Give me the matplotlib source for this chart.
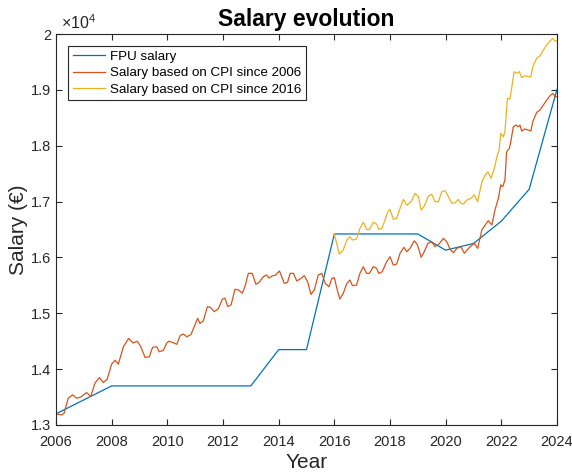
import matplotlib
matplotlib.use("Agg")
import matplotlib.pyplot as plt
from matplotlib.ticker import FuncFormatter

plt.rcParams['font.family'] = ['Liberation Sans', 'DejaVu Sans']
plt.rcParams['mathtext.fontset'] = 'custom'
plt.rcParams['mathtext.rm'] = 'Liberation Sans'

# FPU salary (piecewise)
fpu_years = [2006, 2008, 2013, 2014, 2015, 2016, 2019, 2020, 2021, 2022, 2023, 2024]
fpu_salary = [13200, 13700, 13700, 14350, 14350, 16420, 16420, 16130, 16250, 16650, 17220, 19010]

# salary adjusted by CPI since 2006
cpi06_years = [
    2006.00, 2006.20, 2006.29, 2006.44, 2006.60, 2006.74, 2006.89, 2007.10, 2007.25, 2007.40,
    2007.56, 2007.70, 2007.84, 2008.00, 2008.12, 2008.24, 2008.42, 2008.61, 2008.76, 2008.92,
    2009.04, 2009.20, 2009.35, 2009.47, 2009.62, 2009.71, 2009.86, 2009.98, 2010.06, 2010.18,
    2010.34, 2010.46, 2010.57, 2010.70, 2010.85, 2010.99, 2011.09, 2011.17, 2011.29, 2011.44,
    2011.56, 2011.69, 2011.83, 2011.98, 2012.07, 2012.17, 2012.29, 2012.43, 2012.55, 2012.69,
    2012.79, 2012.91, 2013.05, 2013.18, 2013.29, 2013.45, 2013.57, 2013.65, 2013.77, 2013.87,
    2014.03, 2014.20, 2014.32, 2014.41, 2014.53, 2014.65, 2014.80, 2014.92, 2015.04, 2015.16,
    2015.28, 2015.42, 2015.55, 2015.67, 2015.81, 2015.91, 2016.00, 2016.12, 2016.20, 2016.32,
    2016.45, 2016.56, 2016.65, 2016.80, 2016.92, 2017.04, 2017.16, 2017.26, 2017.40, 2017.52,
    2017.60, 2017.72, 2017.88, 2018.00, 2018.12, 2018.24, 2018.36, 2018.50, 2018.60, 2018.72,
    2018.87, 2018.99, 2019.12, 2019.23, 2019.36, 2019.50, 2019.62, 2019.76, 2019.92, 2020.04,
    2020.16, 2020.28, 2020.40, 2020.55, 2020.67, 2020.79, 2020.91, 2021.03, 2021.15, 2021.30,
    2021.42, 2021.53, 2021.66, 2021.77, 2021.89, 2021.98, 2022.05, 2022.13, 2022.19, 2022.29,
    2022.34, 2022.43, 2022.53, 2022.61, 2022.67, 2022.73, 2022.85, 2022.97, 2023.06, 2023.13,
    2023.27, 2023.39, 2023.51, 2023.63, 2023.75, 2023.85, 2023.93, 2024.00,
]
cpi06_salary = [
    13200, 13180, 13210, 13480, 13540, 13480, 13500, 13580, 13510, 13750,
    13850, 13760, 13820, 14090, 14160, 14090, 14400, 14550, 14470, 14500,
    14410, 14210, 14220, 14390, 14400, 14310, 14340, 14470, 14500, 14480,
    14445, 14600, 14630, 14580, 14620, 14790, 14910, 14820, 14860, 15120,
    15100, 15030, 15080, 15255, 15270, 15120, 15150, 15430, 15420, 15360,
    15480, 15715, 15715, 15520, 15550, 15655, 15685, 15630, 15670, 15680,
    15757, 15536, 15554, 15715, 15715, 15578, 15626, 15673, 15565, 15339,
    15416, 15685, 15715, 15536, 15476, 15626, 15637, 15386, 15255, 15357,
    15536, 15596, 15494, 15506, 15715, 15834, 15715, 15715, 15834, 15805,
    15715, 15744, 15923, 16013, 15864, 15882, 16073, 16181, 16102, 16163,
    16299, 16222, 16002, 16102, 16252, 16281, 16192, 16240, 16342, 16281,
    16145, 16084, 16163, 16192, 16073, 16145, 16204, 16252, 16163, 16491,
    16580, 16657, 16580, 16849, 17050, 17300, 17266, 17386, 17892, 17952,
    18071, 18340, 18370, 18340, 18370, 18263, 18299, 18281, 18263, 18430,
    18597, 18639, 18728, 18818, 18894, 18937, 18877, 18877,
]

# salary adjusted by CPI since 2016
cpi16_years = [
    2016.00, 2016.18, 2016.32, 2016.45, 2016.56, 2016.65, 2016.80, 2016.92, 2017.04, 2017.16,
    2017.26, 2017.40, 2017.52, 2017.60, 2017.72, 2017.82, 2017.92, 2018.00, 2018.12, 2018.24,
    2018.36, 2018.48, 2018.60, 2018.76, 2018.90, 2019.02, 2019.12, 2019.23, 2019.38, 2019.50,
    2019.62, 2019.74, 2019.86, 2019.98, 2020.10, 2020.22, 2020.34, 2020.46, 2020.55, 2020.64,
    2020.76, 2020.91, 2021.03, 2021.15, 2021.30, 2021.42, 2021.52, 2021.63, 2021.75, 2021.84,
    2021.92, 2021.98, 2022.07, 2022.13, 2022.22, 2022.31, 2022.37, 2022.46, 2022.55, 2022.65,
    2022.73, 2022.85, 2022.97, 2023.06, 2023.13, 2023.27, 2023.39, 2023.51, 2023.63, 2023.75,
    2023.85, 2023.93, 2024.00,
]
cpi16_salary = [
    16420, 16060, 16133, 16312, 16371, 16312, 16329, 16521, 16630, 16500,
    16500, 16630, 16600, 16500, 16530, 16670, 16818, 16861, 16682, 16700,
    16879, 17040, 16938, 16997, 17147, 17087, 16849, 16920, 17099, 17129,
    16997, 16997, 17176, 17194, 17087, 16968, 16979, 17040, 16968, 16956,
    17028, 17058, 17117, 16997, 17355, 17475, 17534, 17416, 17595, 17803,
    17923, 18221, 18161, 18251, 18848, 18836, 19027, 19325, 19296, 19325,
    19218, 19253, 19235, 19235, 19414, 19564, 19611, 19713, 19803, 19874,
    19922, 19874, 19874,
]

fig = plt.figure(figsize=(5.72, 4.76), dpi=100)
ax = fig.add_axes([56 / 572, 1 - 425 / 476, 501 / 572, 391 / 476])

ax.plot(fpu_years, fpu_salary, color='#0072BD', lw=0.9, label='FPU salary')
ax.plot(cpi06_years, cpi06_salary, color='#D95319', lw=0.9, label='Salary based on CPI since 2006')
ax.plot(cpi16_years, cpi16_salary, color='#EDB120', lw=0.9, label='Salary based on CPI since 2016')

ax.set_xlim(2006, 2024)
ax.set_ylim(13000, 20000)
ax.set_xticks(range(2006, 2025, 2))
ax.set_yticks(range(13000, 20001, 1000))
ax.yaxis.set_major_formatter(FuncFormatter(lambda v, p: '%g' % (v / 1e4)))

gray = '#262626'
for s in ax.spines.values():
    s.set_color(gray)
    s.set_linewidth(0.8)
ax.tick_params(direction='in', top=True, right=True, length=4, width=0.8,
               colors=gray, labelsize=10.5)
ax.tick_params(axis='x', pad=7)
ax.tick_params(axis='y', pad=3.5)

ax.text(0.01, 1.006, r'$\times10^{4}$', transform=ax.transAxes,
        fontsize=11.5, color=gray, va='bottom', ha='left')

ax.set_title('Salary evolution', fontsize=16.5, fontweight='bold', pad=6)
ax.set_xlabel('Year', fontsize=15, color=gray, labelpad=3)
ax.set_ylabel('Salary (€)', fontsize=15, color=gray, labelpad=2)

leg = ax.legend(loc='upper left', fontsize=9.6, fancybox=False, framealpha=1,
                edgecolor=gray, handlelength=2.4, borderaxespad=0.9,
                borderpad=0.35, labelspacing=0.3, handletextpad=0.4)
leg.get_frame().set_linewidth(0.8)

fig.savefig('out.png', dpi=100)
